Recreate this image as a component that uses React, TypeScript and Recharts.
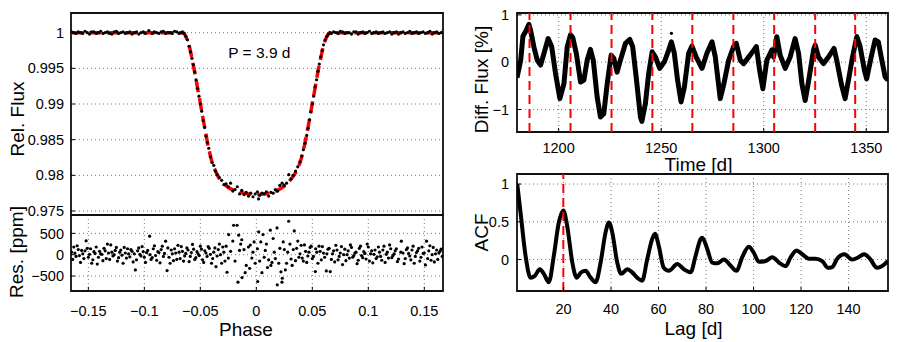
import React from "react";
import {
  ComposedChart,
  Line,
  Scatter,
  XAxis,
  YAxis,
  CartesianGrid,
  ReferenceLine,
  ReferenceDot,
  ReferenceArea,
  Label,
} from "recharts";

const FONT = '"Liberation Sans", Arial, Helvetica, sans-serif';

// ---- left: folded transit (phase, relative flux) ----
const transitModel: [number, number][] = [
  [-0.1655, 1.0], [-0.1, 1.0], [-0.068, 1.0], [-0.065, 0.99995], [-0.0625, 0.9993],
  [-0.06, 0.9982], [-0.058, 0.9968], [-0.056, 0.9952], [-0.054, 0.9936], [-0.052, 0.9918],
  [-0.05, 0.9901], [-0.048, 0.9883], [-0.046, 0.9866], [-0.044, 0.9849], [-0.042, 0.9834],
  [-0.04, 0.9821], [-0.037, 0.9808], [-0.034, 0.9798], [-0.03, 0.979], [-0.025, 0.9783],
  [-0.02, 0.9779], [-0.014, 0.9776], [-0.007, 0.9774], [0.0, 0.9773], [0.007, 0.9774],
  [0.014, 0.9776], [0.02, 0.978], [0.025, 0.9785], [0.03, 0.9793], [0.034, 0.9801],
  [0.037, 0.981], [0.04, 0.9823], [0.042, 0.9835], [0.044, 0.985], [0.046, 0.9866],
  [0.048, 0.9883], [0.05, 0.9901], [0.052, 0.9918], [0.054, 0.9936], [0.056, 0.9953],
  [0.058, 0.9968], [0.06, 0.9982], [0.0625, 0.9993], [0.065, 0.99995], [0.068, 1.0],
  [0.1, 1.0], [0.1667, 1.0],
];

const transitData: [number, number][] = [
  [-0.165, 1.0001], [-0.163, 1.0], [-0.161, 0.9999], [-0.159, 1.0001], [-0.157, 1.0],
  [-0.155, 0.9999], [-0.153, 1.0002], [-0.151, 1.0], [-0.149, 0.9998], [-0.147, 1.0001],
  [-0.145, 1.0001], [-0.143, 0.9999], [-0.141, 1.0], [-0.139, 1.0002], [-0.137, 0.9999],
  [-0.135, 1.0], [-0.133, 1.0001], [-0.131, 0.9999], [-0.129, 0.9998], [-0.127, 1.0001],
  [-0.125, 1.0002], [-0.123, 0.9999], [-0.121, 1.0], [-0.119, 1.0001], [-0.117, 0.9999],
  [-0.115, 1.0], [-0.113, 1.0001], [-0.111, 0.9998], [-0.109, 1.0], [-0.107, 1.0001],
  [-0.105, 0.9998], [-0.103, 1.0], [-0.101, 1.0001], [-0.099, 0.9999], [-0.096, 1.0003],
  [-0.093, 0.9999], [-0.091, 1.0001], [-0.089, 1.0], [-0.087, 0.9999], [-0.085, 1.0001],
  [-0.083, 1.0002], [-0.081, 0.9999], [-0.079, 1.0], [-0.077, 1.0], [-0.075, 0.9999],
  [-0.073, 1.0002], [-0.071, 1.0001], [-0.069, 0.9999], [-0.067, 1.0], [-0.066, 1.0001],
  [-0.0645, 0.9999], [-0.063, 0.9995], [-0.0615, 0.999], [-0.06, 0.9981], [-0.0588, 0.9973],
  [-0.0575, 0.9964], [-0.0562, 0.9955], [-0.055, 0.9945], [-0.0538, 0.9934], [-0.0525, 0.9922],
  [-0.0512, 0.9911], [-0.05, 0.99], [-0.0488, 0.989], [-0.0475, 0.9877], [-0.0462, 0.9867],
  [-0.045, 0.9855], [-0.0438, 0.9846], [-0.0425, 0.9838], [-0.041, 0.9826], [-0.0395, 0.9818],
  [-0.038, 0.9814], [-0.0365, 0.9806], [-0.035, 0.9801], [-0.033, 0.9797], [-0.031, 0.9793],
  [-0.029, 0.9787], [-0.027, 0.9788], [-0.025, 0.9784], [-0.023, 0.9789], [-0.021, 0.9778],
  [-0.019, 0.978], [-0.017, 0.9784], [-0.015, 0.9774], [-0.013, 0.9779], [-0.011, 0.9773],
  [-0.009, 0.9776], [-0.007, 0.9771], [-0.005, 0.9775], [-0.003, 0.977], [-0.001, 0.9774],
  [0.001, 0.9777], [0.002, 0.9767], [0.003, 0.9772], [0.005, 0.9775], [0.007, 0.9774],
  [0.009, 0.9777], [0.011, 0.9771], [0.013, 0.9776], [0.015, 0.9775], [0.017, 0.978],
  [0.019, 0.9778], [0.021, 0.9786], [0.023, 0.9789], [0.025, 0.9786], [0.027, 0.9789],
  [0.029, 0.9801], [0.031, 0.9795], [0.033, 0.98], [0.035, 0.9806], [0.037, 0.9812],
  [0.039, 0.9819], [0.0405, 0.9827], [0.042, 0.9836], [0.0435, 0.9845], [0.045, 0.9856],
  [0.0462, 0.9866], [0.0475, 0.9878], [0.0488, 0.9889], [0.05, 0.99], [0.0512, 0.9911],
  [0.0525, 0.9924], [0.0538, 0.9934], [0.055, 0.9946], [0.0562, 0.9956], [0.0575, 0.9966],
  [0.0588, 0.9975], [0.06, 0.9983], [0.0615, 0.999], [0.063, 0.9995], [0.0645, 0.9998],
  [0.066, 1.0], [0.067, 0.9999], [0.069, 1.0001], [0.071, 1.0], [0.073, 0.9999],
  [0.075, 1.0002], [0.077, 1.0001], [0.079, 0.9999], [0.081, 1.0], [0.083, 1.0],
  [0.085, 0.9998], [0.087, 1.0001], [0.089, 1.0001], [0.091, 0.9998], [0.093, 1.0],
  [0.095, 1.0001], [0.097, 0.9999], [0.099, 1.0], [0.101, 1.0002], [0.103, 0.9999],
  [0.105, 1.0], [0.107, 1.0001], [0.109, 0.9999], [0.111, 1.0], [0.113, 1.0001],
  [0.115, 0.9999], [0.117, 1.0], [0.119, 1.0001], [0.121, 0.9998], [0.123, 1.0],
  [0.125, 1.0001], [0.127, 0.9998], [0.129, 1.0], [0.131, 1.0001], [0.133, 0.9999],
  [0.135, 1.0], [0.137, 1.0002], [0.139, 0.9999], [0.141, 1.0], [0.143, 1.0001],
  [0.145, 0.9999], [0.147, 1.0], [0.149, 1.0001], [0.151, 0.9999], [0.153, 1.0],
  [0.155, 1.0002], [0.157, 0.9998], [0.159, 1.0], [0.161, 1.0001], [0.163, 0.9999],
  [0.165, 1.0], [0.1665, 1.0001],
];

// residuals (phase, ppm)
const residuals: [number, number][] = [
  [-0.165, 60], [-0.164, -110], [-0.163, 180], [-0.162, 40], [-0.161, -40], [-0.16, 210],
  [-0.159, 120], [-0.158, -20], [-0.157, -180], [-0.156, 100], [-0.155, 20], [-0.154, -90],
  [-0.153, 90], [-0.152, 326], [-0.151, 150], [-0.15, -60], [-0.149, 10], [-0.148, 140],
  [-0.147, -200], [-0.146, -120], [-0.145, 70], [-0.144, 30], [-0.143, 180], [-0.142, -220],
  [-0.141, -60], [-0.14, 80], [-0.139, 20], [-0.138, 10], [-0.137, -140], [-0.136, 150],
  [-0.135, 90], [-0.134, -90], [-0.133, 250], [-0.132, 40], [-0.131, -110], [-0.13, 230],
  [-0.129, 60], [-0.128, -30], [-0.127, 0], [-0.126, 100], [-0.125, 170], [-0.124, -150],
  [-0.123, -70], [-0.122, 60], [-0.121, 110], [-0.12, -10], [-0.119, -200], [-0.118, 170],
  [-0.117, 40], [-0.116, -80], [-0.115, 140], [-0.114, 20], [-0.113, -50], [-0.112, 120],
  [-0.111, 80], [-0.11, -170], [-0.109, 20], [-0.108, -356], [-0.107, -120], [-0.106, 90],
  [-0.105, 160], [-0.104, 10], [-0.103, -30], [-0.102, 190], [-0.101, 70], [-0.1, -60],
  [-0.099, -180], [-0.098, 50], [-0.097, 100], [-0.0953, 435], [-0.095, 0], [-0.094, -110],
  [-0.093, -70], [-0.092, 140], [-0.091, 210], [-0.09, -20], [-0.089, -130], [-0.088, 70],
  [-0.087, 50], [-0.086, -190], [-0.085, 120], [-0.084, 200], [-0.083, -40], [-0.082, 30],
  [-0.081, 318], [-0.0797, -372], [-0.079, 160], [-0.078, -60], [-0.077, -200], [-0.076, 110],
  [-0.075, 20], [-0.074, -140], [-0.073, 140], [-0.072, 40], [-0.071, -110], [-0.07, 220],
  [-0.069, 60], [-0.068, -90], [-0.067, 190], [-0.066, 80], [-0.065, -150], [-0.064, -30],
  [-0.063, 30], [-0.062, 160], [-0.061, 110], [-0.06, -160], [-0.059, -40], [-0.058, 50],
  [-0.057, 240], [-0.056, 130], [-0.055, -110], [-0.054, -70], [-0.053, 70], [-0.052, 20],
  [-0.051, -20], [-0.05, 200], [-0.049, 130], [-0.048, -120], [-0.047, -180], [-0.046, 90],
  [-0.045, 40], [-0.044, -40], [-0.043, 190], [-0.042, 150], [-0.041, 10], [-0.04, -200],
  [-0.039, -90], [-0.038, 60], [-0.037, 160], [-0.036, -280], [-0.035, -30], [-0.034, 120],
  [-0.033, 250], [-0.032, 0], [-0.031, -200], [-0.03, 180], [-0.029, 60], [-0.028, -150],
  [-0.027, 200], [-0.0262, -411], [-0.025, -80], [-0.0247, 472], [-0.023, 80], [-0.021, 320],
  [-0.0203, 690], [-0.019, -150], [-0.0172, 690], [-0.0164, -644], [-0.0158, 458], [-0.015, 100],
  [-0.014, 250], [-0.013, 350], [-0.0128, -535], [-0.011, 120], [-0.01, -420], [-0.009, -250],
  [-0.007, 180], [-0.006, -320], [-0.0054, 225], [-0.004, -80], [-0.003, 60], [-0.002, 300],
  [-0.001, -200], [0.001, 140], [0.0012, -628], [0.0021, 535], [0.003, -150], [0.004, 300],
  [0.005, -420], [0.006, 472], [0.007, -60], [0.008, 100], [0.009, 250], [0.01, -300],
  [0.011, -120], [0.0125, 574], [0.013, -250], [0.014, -180], [0.015, 380], [0.016, 60],
  [0.017, -90], [0.0185, 628], [0.0187, -705], [0.02, -200], [0.021, 150], [0.022, -400],
  [0.0229, -644], [0.0232, -551], [0.024, 300], [0.025, 120], [0.0259, -356], [0.027, -200],
  [0.028, 60], [0.0289, 784], [0.03, 250], [0.031, -100], [0.032, -250], [0.033, 120],
  [0.0339, 558], [0.035, -140], [0.036, 150], [0.037, 320], [0.038, -60], [0.039, 20],
  [0.04, 220], [0.041, -80], [0.042, -150], [0.043, 230], [0.044, 80], [0.045, -180],
  [0.046, -30], [0.047, 60], [0.048, 170], [0.049, 200], [0.05, -90], [0.051, -40],
  [0.0527, -395], [0.053, 140], [0.054, 60], [0.055, -200], [0.056, 200], [0.057, 80],
  [0.058, -120], [0.059, 190], [0.06, 40], [0.061, -60], [0.0625, -379], [0.063, 20],
  [0.064, 130], [0.065, 150], [0.066, -395], [0.067, -110], [0.068, 20], [0.069, 90],
  [0.07, -170], [0.071, 220], [0.072, 110], [0.073, -120], [0.074, -40], [0.075, 40],
  [0.076, 190], [0.077, -230], [0.078, 0], [0.079, 130], [0.08, -140], [0.081, 0],
  [0.082, 90], [0.083, -80], [0.084, 230], [0.085, 170], [0.086, -60], [0.087, -20],
  [0.088, 40], [0.089, 60], [0.09, -210], [0.091, -130], [0.092, 150], [0.093, 200],
  [0.094, -20], [0.095, -70], [0.096, 70], [0.097, 30], [0.098, -100], [0.099, 250],
  [0.1, 180], [0.101, -150], [0.102, 20], [0.103, 90], [0.104, -190], [0.105, 10],
  [0.106, 110], [0.107, -90], [0.108, -50], [0.109, 180], [0.11, 60], [0.111, -40],
  [0.112, -130], [0.113, 110], [0.114, 200], [0.115, -180], [0.116, 10], [0.117, 60],
  [0.118, -80], [0.119, 230], [0.12, 140], [0.121, -70], [0.122, -20], [0.123, 20],
  [0.124, 90], [0.125, 140], [0.126, -160], [0.127, -100], [0.129, 60], [0.1295, 318],
  [0.131, 40], [0.132, -210], [0.133, -90], [0.134, 120], [0.135, 160], [0.136, 30],
  [0.137, -30], [0.138, -120], [0.139, 110], [0.14, 200], [0.141, -200], [0.142, -40],
  [0.143, 50], [0.144, 90], [0.145, 150], [0.146, -150], [0.147, -60], [0.148, 180],
  [0.149, 30], [0.15, 40], [0.151, -240], [0.152, 318], [0.153, -90], [0.154, 90],
  [0.155, 210], [0.156, -130], [0.157, 0], [0.158, 170], [0.159, -170], [0.16, 20],
  [0.161, 110], [0.162, -110], [0.163, 40], [0.164, 80], [0.165, 130], [0.166, -40],
];

const phaseTicks = [-0.15, -0.1, -0.05, 0, 0.05, 0.1, 0.15];
const fluxTicks = [0.975, 0.98, 0.985, 0.99, 0.995, 1];
const resTicks = [-500, 0, 500];

// ---- right top: light curve (time [d], diff. flux [%]) ----
const diffFlux: [number, number][] = [
  [1179.7, -0.33], [1181.5, 0.04], [1182.6, 0.55], [1183.9, 0.65], [1185.5, 0.8],
  [1186.3, 0.68], [1187.9, 0.33], [1189.6, 0.04], [1191.2, -0.06], [1192.8, 0.18],
  [1194.9, 0.5], [1196.6, 0.33], [1198.5, -0.24], [1200.6, -0.77], [1202.6, -0.45],
  [1204.2, 0.33], [1205.8, 0.58], [1206.9, 0.52], [1208.6, 0.19], [1210.7, -0.42],
  [1212.3, -0.38], [1213.9, 0.04], [1215.5, 0.27], [1216.9, 0.04], [1218.8, -0.74],
  [1220.4, -1.16], [1222.0, -1.09], [1223.7, -0.45], [1225.6, 0.15], [1226.9, 0.08],
  [1228.5, -0.21], [1230.1, 0.04], [1232.6, 0.4], [1234.7, 0.48], [1236.1, 0.33],
  [1237.8, -0.31], [1239.9, -1.16], [1240.6, -1.25], [1242.3, -0.88], [1243.9, -0.24],
  [1245.6, 0.22], [1247.2, 0.11], [1249.3, -0.13], [1251.6, 0.01], [1253.7, 0.26],
  [1255.0, 0.43], [1256.4, 0.19], [1258.0, -0.38], [1259.7, -0.84], [1261.3, -0.53],
  [1263.4, 0.19], [1265.0, 0.34], [1267.1, 0.11], [1269.9, -0.13], [1272.3, 0.19],
  [1274.8, 0.43], [1276.4, 0.11], [1278.8, -0.77], [1280.4, -0.49], [1282.9, 0.04],
  [1285.3, 0.33], [1286.6, 0.4], [1288.6, 0.04], [1290.2, -0.03], [1293.4, 0.15],
  [1296.4, 0.33], [1298.0, -0.17], [1299.6, -0.56], [1301.5, 0.04], [1302.3, 0.11],
  [1304.0, 0.26], [1304.8, 0.11], [1306.4, 0.54], [1308.0, 0.15], [1310.5, -0.13],
  [1312.9, 0.11], [1315.3, 0.5], [1317.0, 0.19], [1318.6, -0.45], [1320.2, -0.81],
  [1321.8, -0.42], [1324.3, 0.26], [1325.1, 0.36], [1326.7, 0.11], [1329.1, -0.03],
  [1331.6, 0.11], [1334.3, 0.29], [1335.6, 0.04], [1338.0, -0.49], [1339.7, -0.77],
  [1341.6, -0.31], [1343.3, 0.11], [1345.4, 0.54], [1347.0, 0.33], [1349.1, -0.17],
  [1350.2, -0.35], [1352.4, 0.11], [1354.3, 0.47], [1355.9, 0.43], [1357.6, 0.04],
  [1359.2, -0.31], [1360.6, -0.38],
];
const diffFluxOutliers: [number, number][] = [[1255.0, 0.61]];
const rotationTimes = [1185.8, 1205.8, 1225.8, 1245.7, 1265.2, 1285.2, 1305.1, 1325.1, 1344.6];
const timeTicks = [1200, 1250, 1300, 1350];
const diffTicks = [-1, 0, 1];

// ---- right bottom: autocorrelation (lag [d], ACF) ----
const acf: [number, number][] = [
  [0.5, 1.0], [1.9, 0.62], [4.0, 0.05], [6.1, -0.24], [7.8, -0.22], [10.0, -0.13],
  [11.7, -0.19], [13.8, -0.3], [15.9, 0.05], [18.0, 0.49], [19.9, 0.65], [21.5, 0.45],
  [23.7, -0.04], [25.5, -0.24], [27.4, -0.17], [29.3, -0.15], [31.4, -0.24], [33.5, -0.3],
  [35.6, -0.04], [37.7, 0.36], [39.1, 0.49], [40.5, 0.36], [42.6, -0.04], [44.3, -0.19],
  [46.8, -0.13], [48.9, -0.17], [51.0, -0.24], [53.1, -0.28], [55.2, 0.0], [57.3, 0.27],
  [58.5, 0.34], [60.1, 0.18], [62.2, -0.11], [64.3, -0.15], [67.9, -0.06], [70.7, -0.13],
  [73.5, -0.17], [75.6, 0.05], [77.7, 0.27], [78.4, 0.29], [80.5, 0.14], [82.6, -0.04],
  [84.7, -0.05], [87.5, 0.0], [90.3, -0.08], [92.8, -0.15], [95.2, 0.03], [98.0, 0.17],
  [100.1, 0.09], [102.2, -0.03], [105.1, -0.02], [107.9, 0.03], [110.7, -0.04], [113.5, -0.09],
  [115.6, 0.03], [118.1, 0.12], [120.5, 0.07], [123.3, 0.01], [126.1, 0.01], [128.9, -0.02],
  [131.3, -0.11], [133.1, -0.1], [135.2, 0.01], [138.2, 0.07], [141.5, 0.0], [143.5, 0.02],
  [146.6, 0.07], [149.0, 0.01], [152.0, -0.11], [154.0, -0.09], [156.6, -0.02],
];
const acfPeakLag = 19.9;
const lagTicks = [20, 40, 60, 80, 100, 120, 140];
const acfTicks = [0, 0.5, 1];

const xy = (pts: [number, number][]) => pts.map(([x, y]) => ({ x, y }));

const tickStyle = { fontSize: 14.5, fill: "#000", fontFamily: FONT };
const fmt = (v: number) => String(v).replace("-", "\u2212");
const tickMark = { stroke: "#000", strokeWidth: 1 };

const Dot = (p: any) => <circle cx={p.cx} cy={p.cy} r={1.6} fill="#000" />;

const vTitle = (text: string, cx: number, shift: number) => (p: any) => {
  const vb = p.viewBox ?? { x: 0, y: 0, width: 0, height: 0 };
  const cy = vb.y + vb.height / 2 + shift;
  return (
    <text x={cx} y={cy} transform={`rotate(-90 ${cx} ${cy})`} textAnchor="middle"
      dominantBaseline="central" fontSize={19} fontFamily={FONT} fill="#000">
      {text}
    </text>
  );
};

const hTitle = (text: string, cy: number, dx: number) => (p: any) => {
  const vb = p.viewBox ?? { x: 0, y: 0, width: 0, height: 0 };
  const cx = vb.x + vb.width / 2 + dx;
  return (
    <text x={cx} y={cy} textAnchor="middle" dominantBaseline="central"
      fontSize={19} fontFamily={FONT} fill="#000">
      {text}
    </text>
  );
};

// labelled bottom / left axes, short tick marks pointing into the plot
function axes(o: {
  xDomain: [number, number];
  yDomain: [number, number];
  xTicks: number[];
  yTicks: number[];
  xLabels: boolean;
  xHeight: number;
  yWidth: number;
  xMargin: number;
  yMargin: number;
  xTitle?: (p: any) => React.ReactElement;
  yTitle?: (p: any) => React.ReactElement;
}) {
  return [
    <XAxis key="xb" type="number" dataKey="x" domain={o.xDomain} ticks={o.xTicks}
      allowDataOverflow interval={0} height={o.xHeight}
      tick={o.xLabels ? tickStyle : false} tickFormatter={fmt}
      tickSize={-4} tickMargin={o.xMargin + 4} axisLine={false} tickLine={tickMark}>
      {o.xTitle && <Label content={o.xTitle} />}
    </XAxis>,
    <YAxis key="yl" type="number" dataKey="y" domain={o.yDomain} ticks={o.yTicks}
      allowDataOverflow interval={0} width={o.yWidth} tick={tickStyle}
      tickFormatter={fmt} tickSize={-4} tickMargin={o.yMargin + 4}
      axisLine={false} tickLine={tickMark}>
      {o.yTitle && <Label content={o.yTitle} />}
    </YAxis>,
  ];
}

// plot box, drawn over the whole axis domain
const box = (xd: [number, number], yd: [number, number]) => (
  <ReferenceArea x1={xd[0]} x2={xd[1]} y1={yd[0]} y2={yd[1]} fill="none"
    stroke="#111" strokeWidth={1.8} ifOverflow="visible" />
);

const grid = <CartesianGrid stroke="#777" strokeDasharray="1 3" />;

export default function App() {
  const phaseDomain: [number, number] = [-0.1655, 0.1667];
  const fluxDomain: [number, number] = [0.97444, 1.00276];
  const resDomain: [number, number] = [-850, 930];
  const timeDomain: [number, number] = [1179.7, 1360.6];
  const diffDomain: [number, number] = [-1.475, 1.04];
  const lagDomain: [number, number] = [0.4, 156.6];
  const acfDomain: [number, number] = [-0.417, 1.133];
  return (
    <div style={{ position: "absolute", left: 0, top: 0, width: 899, height: 342, background: "#fff", fontFamily: FONT }}>
      <div style={{ position: "absolute", left: 0, top: 0 }}>
        <ComposedChart width={450} height={230} margin={{ top: 13, right: 7, bottom: 15, left: 0 }}>
          {grid}
          {axes({
            xDomain: phaseDomain, yDomain: fluxDomain, xTicks: phaseTicks, yTicks: fluxTicks,
            xLabels: false, xHeight: 0, yWidth: 71, xMargin: 0, yMargin: 7,
            yTitle: vTitle("Rel. Flux", 17, 5),
          })}
          <Scatter data={xy(transitData)} dataKey="y" shape={Dot} isAnimationActive={false} />
          <Line data={xy(transitModel)} dataKey="y" type="monotone" stroke="#ff0000" strokeWidth={3.5}
            strokeDasharray="12 6" dot={false} activeDot={false} isAnimationActive={false} />
          <ReferenceDot x={0.0027} y={0.9972} r={1} fill="none" stroke="none"
            label={{ value: "P = 3.9 d", position: "center", fontSize: 15.5, fill: "#000" }} />
          {box(phaseDomain, fluxDomain)}
        </ComposedChart>
      </div>

      <div style={{ position: "absolute", left: 0, top: 195 }}>
        <ComposedChart width={450} height={147} margin={{ top: 20, right: 7, bottom: 0, left: 0 }}>
          {grid}
          {axes({
            xDomain: phaseDomain, yDomain: resDomain, xTicks: phaseTicks, yTicks: resTicks,
            xLabels: true, xHeight: 51, yWidth: 71, xMargin: 15, yMargin: 7,
            yTitle: vTitle("Res. [ppm]", 16.5, -1),
            xTitle: hTitle("Phase", 134, -11),
          })}
          <Scatter data={xy(residuals)} dataKey="y" shape={Dot} isAnimationActive={false} />
          {box(phaseDomain, resDomain)}
        </ComposedChart>
      </div>

      <div style={{ position: "absolute", left: 440, top: 0 }}>
        <ComposedChart width={459} height={175} margin={{ top: 13, right: 11, bottom: 0, left: 0 }}>
          {grid}
          {axes({
            xDomain: timeDomain, yDomain: diffDomain, xTicks: timeTicks, yTicks: diffTicks,
            xLabels: true, xHeight: 43, yWidth: 77, xMargin: 11, yMargin: 8,
            yTitle: vTitle("Diff. Flux [%]", 41, 7),
            xTitle: hTitle("Time [d]", 164, -4),
          })}
          <Line data={xy(diffFlux)} dataKey="y" type="linear" stroke="#000" strokeWidth={5}
            strokeLinejoin="round" dot={false} activeDot={false} isAnimationActive={false} />
          <Scatter data={xy(diffFluxOutliers)} dataKey="y" shape={Dot} isAnimationActive={false} />
          {rotationTimes.map((t) => (
            <ReferenceLine key={t} x={t} stroke="#ff0000" strokeWidth={2} strokeDasharray="9 5" />
          ))}
          {box(timeDomain, diffDomain)}
        </ComposedChart>
      </div>

      <div style={{ position: "absolute", left: 440, top: 170 }}>
        <ComposedChart width={459} height={172} margin={{ top: 4, right: 11, bottom: 0, left: 0 }}>
          {grid}
          {axes({
            xDomain: lagDomain, yDomain: acfDomain, xTicks: lagTicks, yTicks: acfTicks,
            xLabels: true, xHeight: 51, yWidth: 77, xMargin: 13, yMargin: 8,
            yTitle: vTitle("ACF", 41, 0),
            xTitle: hTitle("Lag [d]", 158, -9),
          })}
          <Line data={xy(acf)} dataKey="y" type="monotone" stroke="#000" strokeWidth={4}
            dot={false} activeDot={false} isAnimationActive={false} />
          <ReferenceLine x={acfPeakLag} stroke="#ff0000" strokeWidth={2} strokeDasharray="9 5" />
          {box(lagDomain, acfDomain)}
        </ComposedChart>
      </div>
    </div>
  );
}
